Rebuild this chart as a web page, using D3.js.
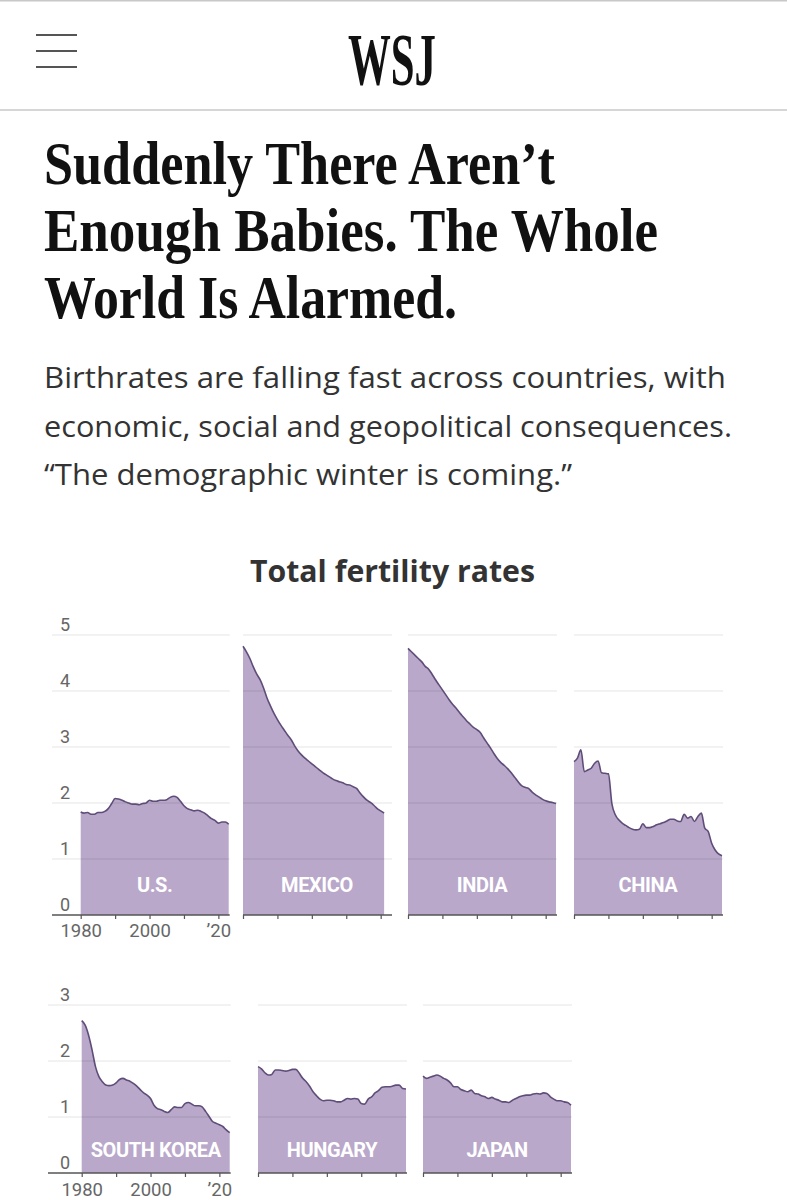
<!DOCTYPE html>
<html>
<head>
<meta charset="utf-8">
<script src="https://cdn.jsdelivr.net/npm/d3@7"></script>
<style>
  html, body { margin: 0; padding: 0; background: #fff; }
  svg { display: block; }
</style>
</head>
<body>
<svg id="chart" width="787" height="1200"></svg>
<script>
// ---------- DATA ----------
const years = [1980,1981,1982,1983,1984,1985,1986,1987,1988,1989,
               1990,1991,1992,1993,1994,1995,1996,1997,1998,1999,
               2000,2001,2002,2003,2004,2005,2006,2007,2008,2009,
               2010,2011,2012,2013,2014,2015,2016,2017,2018,2019,
               2020,2021,2022,2023];

const usValues = [1.84,1.82,1.83,1.80,1.80,1.83,1.83,1.85,1.90,1.99,
                  2.08,2.07,2.05,2.02,2.00,1.98,1.98,1.97,1.99,2.00,
                  2.05,2.03,2.03,2.05,2.05,2.06,2.10,2.12,2.10,2.03,
                  1.95,1.90,1.88,1.86,1.87,1.85,1.82,1.77,1.72,1.69,
                  1.64,1.66,1.66,1.62];
const mexicoValues = [4.80,4.70,4.58,4.43,4.30,4.20,4.05,3.87,3.73,3.60,
                      3.49,3.39,3.30,3.21,3.13,3.02,2.93,2.86,2.80,2.75,
                      2.70,2.65,2.60,2.55,2.51,2.47,2.43,2.40,2.38,2.36,
                      2.33,2.32,2.29,2.26,2.18,2.11,2.05,2.01,1.96,1.90,
                      1.86,1.82];
const indiaValues = [4.76,4.70,4.64,4.58,4.52,4.44,4.39,4.30,4.20,4.11,
                     4.02,3.93,3.84,3.76,3.69,3.61,3.54,3.47,3.41,3.35,
                     3.31,3.26,3.16,3.07,2.98,2.88,2.79,2.72,2.67,2.61,
                     2.54,2.46,2.38,2.31,2.28,2.26,2.20,2.15,2.11,2.07,
                     2.04,2.02,2.01,1.99];
const chinaValues = [2.74,2.80,2.95,2.56,2.59,2.62,2.71,2.75,2.54,2.53,
                     2.52,1.99,1.79,1.70,1.64,1.60,1.56,1.53,1.52,1.53,
                     1.63,1.56,1.56,1.58,1.61,1.63,1.65,1.68,1.71,1.71,
                     1.68,1.67,1.80,1.73,1.76,1.67,1.76,1.82,1.55,1.49,
                     1.28,1.16,1.09,1.06];
const southKoreaValues = [2.72,2.64,2.46,2.20,1.90,1.72,1.63,1.57,1.56,1.57,
                          1.61,1.67,1.69,1.66,1.64,1.60,1.55,1.49,1.43,1.39,
                          1.33,1.21,1.15,1.13,1.10,1.08,1.13,1.18,1.17,1.17,
                          1.24,1.26,1.23,1.20,1.20,1.18,1.10,1.01,0.92,0.89,
                          0.86,0.83,0.77,0.72];
const hungaryValues = [1.90,1.86,1.79,1.75,1.76,1.84,1.84,1.83,1.82,1.83,
                       1.85,1.85,1.78,1.69,1.63,1.55,1.45,1.38,1.32,1.29,
                       1.30,1.30,1.29,1.27,1.27,1.30,1.33,1.32,1.33,1.32,
                       1.24,1.23,1.32,1.36,1.43,1.47,1.53,1.54,1.54,1.55,
                       1.57,1.57,1.51,1.50];
const japanValues = [1.73,1.69,1.71,1.73,1.75,1.73,1.69,1.66,1.61,1.54,
                     1.54,1.49,1.47,1.45,1.48,1.42,1.41,1.38,1.36,1.33,
                     1.35,1.32,1.30,1.27,1.27,1.26,1.30,1.33,1.36,1.38,
                     1.39,1.39,1.41,1.42,1.41,1.43,1.42,1.36,1.32,1.29,
                     1.29,1.27,1.26,1.21];

const topRowCountries = ["U.S.", "MEXICO", "INDIA", "CHINA"];
const bottomRowCountries = ["SOUTH KOREA", "HUNGARY", "JAPAN"];
const seriesByCountry = {
  "U.S.": usValues, "MEXICO": mexicoValues, "INDIA": indiaValues, "CHINA": chinaValues,
  "SOUTH KOREA": southKoreaValues, "HUNGARY": hungaryValues, "JAPAN": japanValues
};
const topRowYTicks = [0, 1, 2, 3, 4, 5];
const bottomRowYTicks = [0, 1, 2, 3];
const xTickYears = [1980, 1990, 2000, 2010, 2020];
const xTickLabels = {1980: "1980", 2000: "2000", 2020: "\u201920"};

const headline = ["Suddenly There Aren\u2019t", "Enough Babies. The Whole", "World Is Alarmed."];
const dek = ["Birthrates are falling fast across countries, with",
             "economic, social and geopolitical consequences.",
             "\u201cThe demographic winter is coming.\u201d"];
const chartTitle = "Total fertility rates";

// ---------- STYLE / LAYOUT ----------
const FILL = "#b9a8ca";
const STROKE = "#5e4d78";
const GRID = "rgba(0,0,0,0.10)";
const svg = d3.select("#chart");

// header
svg.append("line").attr("x1",0).attr("x2",787).attr("y1",0.75).attr("y2",0.75)
  .attr("stroke","#c8c8c8").attr("stroke-width",1.5);
[35, 51, 67].forEach(y => {
  svg.append("line").attr("x1",36).attr("x2",77).attr("y1",y).attr("y2",y)
    .attr("stroke","#555").attr("stroke-width",2);
});
svg.append("text").attr("x",348).attr("y",85)
  .attr("font-family","'Liberation Serif', 'DejaVu Serif', serif")
  .attr("font-weight",700).attr("font-size",74)
  .attr("textLength",88).attr("lengthAdjust","spacingAndGlyphs")
  .attr("fill","#111").text("WSJ");
svg.append("line").attr("x1",0).attr("x2",787).attr("y1",110).attr("y2",110)
  .attr("stroke","#d6d6d6").attr("stroke-width",2);

// headline
const headBase = [184, 251, 318];
const headLen = [511, 614, 413];
headline.forEach((t, i) => {
  svg.append("text").attr("x",44).attr("y",headBase[i])
    .attr("font-family","'Liberation Serif', 'DejaVu Serif', serif")
    .attr("font-weight",700).attr("font-size",61)
    .attr("textLength",headLen[i]).attr("lengthAdjust","spacingAndGlyphs")
    .attr("fill","#111").text(t);
});

// dek
const dekBase = [388, 437, 485];
const dekLen = [682, 688, 528];
dek.forEach((t, i) => {
  svg.append("text").attr("x",44).attr("y",dekBase[i])
    .attr("font-family","'Open Sans', 'Noto Sans', sans-serif")
    .attr("font-weight",400).attr("font-size",29)
    .attr("textLength",dekLen[i]).attr("lengthAdjust","spacingAndGlyphs")
    .attr("fill","#333").text(t);
});

// chart title
svg.append("text").attr("x",250).attr("y",582)
  .attr("font-family","'Open Sans', 'Noto Sans', sans-serif")
  .attr("font-weight",700).attr("font-size",30)
  .attr("textLength",285).attr("lengthAdjust","spacingAndGlyphs")
  .attr("fill","#333").text(chartTitle);

// ---------- SMALL MULTIPLES ----------
const PANEL_W = 148;
const rows = [
  { countries: topRowCountries, x0s: [80.7, 243, 408, 574], base: 915, maxV: 5,
    yTicks: topRowYTicks, gridLeft: 52, labelBase: 892, xLabDy: 22 },
  { countries: bottomRowCountries, x0s: [81.7, 258, 423], base: 1173, maxV: 3,
    yTicks: bottomRowYTicks, gridLeft: 48, labelBase: 1157, xLabDy: 23 }
];

rows.forEach(row => {
  const y = d3.scaleLinear().domain([0, row.maxV]).range([row.base, row.base - 56 * row.maxV]);
  row.countries.forEach((c, ci) => {
    const x0 = row.x0s[ci];
    const x = d3.scaleLinear().domain([1980, 2023]).range([x0, x0 + PANEL_W]);
    const vals = seriesByCountry[c];
    const data = vals.map((v, i) => ({ year: years[i], v }));
    const g = svg.append("g");

    const area = d3.area().x(d => x(d.year)).y0(y(0)).y1(d => y(d.v)).curve(d3.curveMonotoneX);
    const line = d3.line().x(d => x(d.year)).y(d => y(d.v)).curve(d3.curveMonotoneX);

    g.append("path").datum(data).attr("d", area).attr("fill", FILL);

    const gl = ci === 0 ? row.gridLeft : x0;
    g.selectAll(".grid").data(row.yTicks.filter(t => t > 0)).enter().append("line")
      .attr("x1", gl).attr("x2", x0 + PANEL_W + 1)
      .attr("y1", d => y(d)).attr("y2", d => y(d))
      .attr("stroke", GRID).attr("stroke-width", 1.2);

    g.append("path").datum(data).attr("d", line)
      .attr("fill", "none").attr("stroke", STROKE).attr("stroke-width", 1.6)
      .attr("stroke-linejoin", "round");

    // baseline axis with ticks
    const axis = d3.axisBottom(x).tickValues(xTickYears).tickSize(4).tickPadding(0)
      .tickFormat(d => ci === 0 ? (xTickLabels[d] || "") : "");
    const ag = g.append("g").attr("transform", `translate(0,${row.base})`).call(axis);
    ag.select(".domain").remove();
    ag.selectAll(".tick line").attr("stroke", "#555").attr("stroke-width", 1.2);
    ag.selectAll(".tick text").attr("fill", "#666")
      .attr("font-family", "Roboto, 'Noto Sans', sans-serif")
      .attr("font-size", 18.5).attr("y", row.xLabDy).attr("dy", 0)
      .attr("dominant-baseline", "auto");
    g.append("line").attr("x1", gl).attr("x2", x0 + PANEL_W + 1)
      .attr("y1", row.base).attr("y2", row.base)
      .attr("stroke", "#555").attr("stroke-width", 1.5);

    // y labels on first panel
    if (ci === 0) {
      g.selectAll(".ylab").data(row.yTicks).enter().append("text")
        .attr("x", 60).attr("y", d => y(d) - 4)
        .attr("font-family", "Roboto, 'Noto Sans', sans-serif")
        .attr("font-size", 18).attr("fill", "#666").text(d => d);
    }

    // country label
    g.append("text").attr("x", x0 + PANEL_W / 2).attr("y", row.labelBase)
      .attr("text-anchor", "middle")
      .attr("font-family", "Roboto, 'Noto Sans', sans-serif")
      .attr("font-weight", 700).attr("font-size", 20).attr("letter-spacing", -0.4)
      .attr("fill", "#fff").text(c);
  });
});
</script>
</body>
</html>
